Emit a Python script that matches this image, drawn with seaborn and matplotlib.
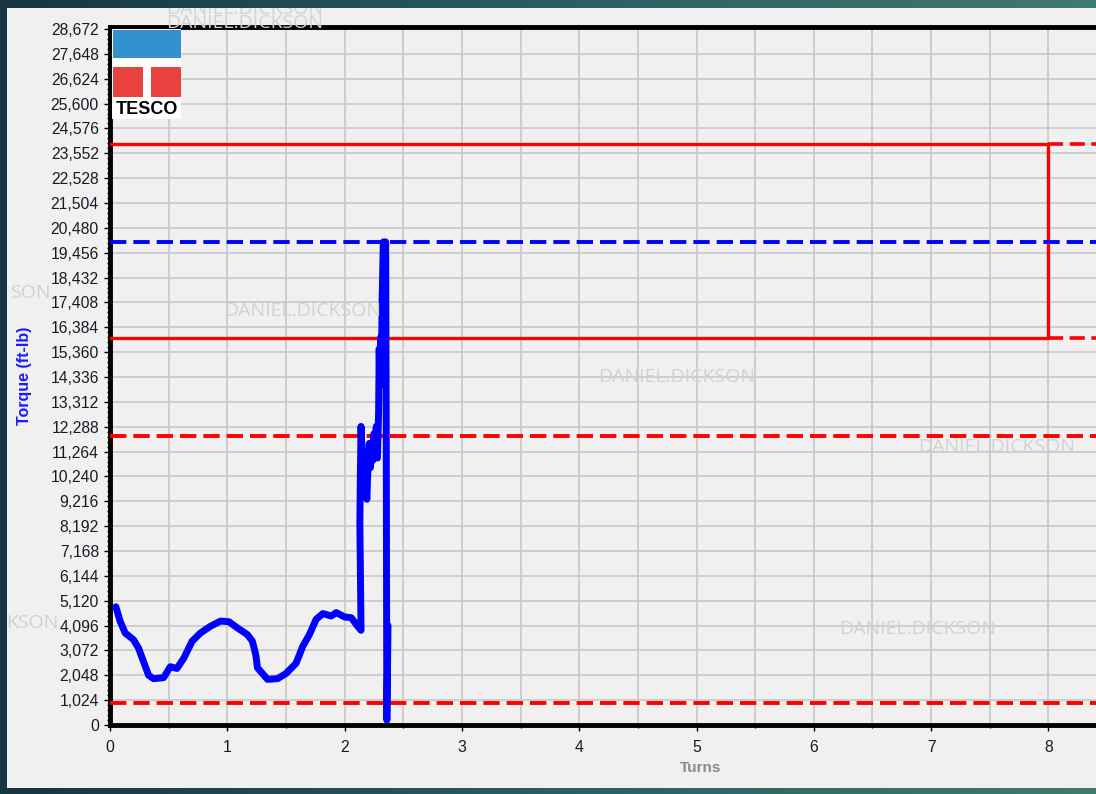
import matplotlib
matplotlib.use("Agg")
import matplotlib.pyplot as plt
import matplotlib.patches as mpatches
import numpy as np
import seaborn as sns

# torque-turn trace
turns = [0.05, 0.086, 0.129, 0.2, 0.243, 0.286, 0.329, 0.371, 0.457, 0.514,
         0.571, 0.629, 0.7, 0.771, 0.857, 0.943, 1.014, 1.086, 1.171, 1.214,
         1.243, 1.257, 1.3, 1.343, 1.429, 1.5, 1.586, 1.643, 1.7, 1.757,
         1.814, 1.886, 1.929, 2.0, 2.057, 2.1, 2.14, 2.135, 2.13, 2.135,
         2.14, 2.15, 2.16, 2.17, 2.18, 2.19, 2.2, 2.21, 2.22, 2.23,
         2.24, 2.25, 2.26, 2.27, 2.28, 2.29, 2.295, 2.3, 2.31, 2.315,
         2.32, 2.33, 2.35, 2.355, 2.36, 2.365, 2.37]
torque = [4870, 4280, 3790, 3515, 3170, 2610, 2050, 1910, 1950, 2400,
          2330, 2750, 3450, 3790, 4070, 4280, 4255, 4000, 3725, 3450,
          2890, 2360, 2120, 1880, 1910, 2120, 2540, 3240, 3725, 4350,
          4590, 4490, 4630, 4450, 4420, 4140, 3900, 6200, 8300, 10500,
          12300, 11000, 10200, 11200, 9700, 9300, 10800, 11600, 10600, 11300,
          10900, 12000, 11000, 12300, 11000, 12900, 15500, 14000, 16000, 15200,
          17500, 19900, 19900, 12000, 200, 2000, 4100]

# limit lines
box_upper = 23920
box_lower = 15930
box_end_turns = 8
target_torque = 19900
shoulder_max = 11900
shoulder_min = 900

y_ticks = list(range(0, 28673, 1024))
x_ticks = list(range(0, 9))

W, H = 1096, 794
def fx(px):
    return px / W
def fy(py):
    return 1 - py / H

sns.set_theme(style="whitegrid")
plt.rcParams['font.family'] = ['Liberation Sans', 'DejaVu Sans']

fig = plt.figure(figsize=(W / 100, H / 100), dpi=100)

# dark teal backdrop with light panel
bg = fig.add_axes([0, 0, 1, 1], zorder=-10)
grad = np.linspace(0, 1, 256)[None, :]
cmap = matplotlib.colors.LinearSegmentedColormap.from_list("bg", ["#163441", "#2a5e62", "#3f7a70"])
bg.imshow(grad, aspect="auto", cmap=cmap, extent=[0, 1, 0, 1])
bg.axis("off")
panel = mpatches.Rectangle((fx(7), fy(788)), fx(W - 7), fy(8) - fy(788),
                           transform=fig.transFigure, facecolor="#f0f0f0",
                           edgecolor="none", zorder=-5)
fig.patches.append(panel)

x_max = (W - 110) / 117.3
y_max = 698 / 696 * 28672
ax = fig.add_axes([fx(110), fy(725), fx(W - 110), fy(27) - fy(725)])
ax.set_facecolor("#f0f0f0")

sns.lineplot(x=turns, y=torque, sort=False, estimator=None, color="#0000ff",
             lw=5, ax=ax, zorder=5)

dash = (0, (4.2, 1.8))
ax.plot([0, box_end_turns], [box_upper, box_upper], color="#ff0000", lw=2.4, zorder=4)
ax.plot([0, box_end_turns], [box_lower, box_lower], color="#ff0000", lw=2.4, zorder=4)
ax.plot([box_end_turns, box_end_turns], [box_lower, box_upper], color="#ff0000", lw=2.4, zorder=4)
ax.plot([box_end_turns, x_max], [box_upper, box_upper], color="#ff0000", lw=2.6, ls=dash, zorder=4)
ax.plot([box_end_turns, x_max], [box_lower, box_lower], color="#ff0000", lw=2.6, ls=dash, zorder=4)
ax.plot([0, x_max], [target_torque, target_torque], color="#0000ff", lw=2.8, ls=dash, zorder=4)
ax.plot([0, x_max], [shoulder_max, shoulder_max], color="#ff0000", lw=2.8, ls=dash, zorder=4)
ax.plot([0, x_max], [shoulder_min, shoulder_min], color="#ff0000", lw=2.8, ls=dash, zorder=4)

ax.set_xlim(0, x_max)
ax.set_ylim(0, y_max)
ax.set_yticks(y_ticks)
ax.set_yticklabels([f"{v:,}" for v in y_ticks])
ax.set_yticks(np.arange(0, y_max, 204.8), minor=True)
ax.set_xticks(x_ticks)
ax.set_xticks(np.arange(0.5, x_max, 1.0), minor=True)
ax.grid(True, which="major", color="#c8c8c8", lw=1.2)
ax.grid(True, which="minor", axis="x", color="#c8c8c8", lw=1.2)
ax.tick_params(axis="y", which="major", direction="out", length=4, width=1,
               color="black", labelsize=11.3, labelcolor="#1a1a26", pad=4, left=True)
ax.tick_params(axis="x", which="major", direction="out", length=4, width=1,
               color="black", labelsize=11.3, labelcolor="#1a1a26", pad=7, bottom=True)
ax.tick_params(axis="both", which="minor", direction="out", length=2.5, width=1,
               color="black", left=True, bottom=True)

for side in ["left", "top", "bottom"]:
    ax.spines[side].set_visible(True)
    ax.spines[side].set_color("black")
    ax.spines[side].set_linewidth(3.5)
ax.spines["right"].set_visible(False)

ax.set_ylabel("Torque (ft-lb)", color="#1a1aff", fontweight="bold", fontsize=11.5)
ax.yaxis.set_label_coords((32 - 110) / 986, 0.5)
ax.set_xlabel("Turns", color="#8a8a8a", fontweight="bold", fontsize=11)
ax.xaxis.set_label_coords((701 - 110) / 986, -(761 - 725) / 698)

# TESCO logo
logo = [((112, 29), (181, 119), "white"),
        ((113, 30), (181, 58), "#3391d0"),
        ((113, 67), (143, 97), "#e8413e"),
        ((151, 67), (181, 97), "#e8413e")]
for (x0, y0), (x1, y1), c in logo:
    fig.patches.append(mpatches.Rectangle((fx(x0), fy(y1)), fx(x1 - x0), fy(y0) - fy(y1),
                                          transform=fig.transFigure, facecolor=c,
                                          edgecolor="none", zorder=20))
fig.text(fx(147), fy(110), "TESCO", ha="center", va="center", fontsize=13,
         fontweight="heavy", color="black", zorder=21)

# watermarks (left ones show only their visible tail)
marks = [(245, 9, "DANIEL.DICKSON"), (245, 23, "DANIEL.DICKSON"),
         (303, 311, "DANIEL.DICKSON"), (677, 377, "DANIEL.DICKSON"),
         (997, 447, "DANIEL.DICKSON"), (918, 629, "DANIEL.DICKSON"),
         (30, 293, "SON"), (32, 623, "KSON")]
for px, py, s in marks:
    t = fig.text(fx(px), fy(py), s, ha="center", va="center",
                 fontsize=14, color="#d2d2d2", family=["Open Sans", "DejaVu Sans"],
                 zorder=15)
    t.set_clip_path(panel)

fig.savefig("out.png", dpi=100)
